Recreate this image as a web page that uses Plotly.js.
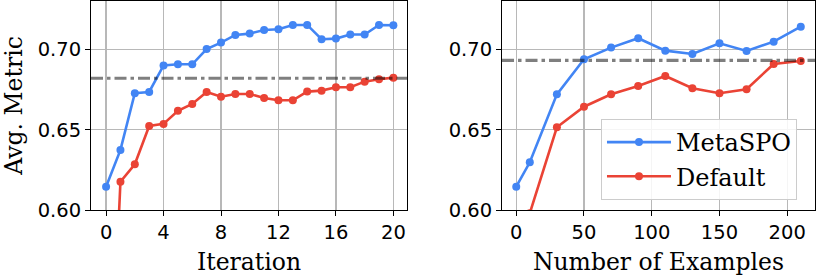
<!DOCTYPE html>
<html>
<head>
<meta charset="utf-8">
<script src="https://cdn.plot.ly/plotly-3.0.1.min.js"></script>
<style>html,body{margin:0;padding:0;background:#fff;}#chart{width:818px;height:277px;}</style>
</head>
<body>
<div id="chart"></div>
<script>
// Left panel: metric vs iteration
const iterations = [0,1,2,3,4,5,6,7,8,9,10,11,12,13,14,15,16,17,18,19,20];
const metaspoIter = [0.6145,0.6374,0.6727,0.6735,0.6900,0.6907,0.6907,0.7002,0.7042,0.7090,0.7098,0.7121,0.7125,0.7152,0.7152,0.7063,0.7067,0.7092,0.7092,0.7152,0.7150];
const defaultIter = [0.420,0.6176,0.6285,0.6523,0.6536,0.6618,0.6660,0.6735,0.6705,0.6722,0.6722,0.6697,0.6683,0.6683,0.6737,0.6743,0.6764,0.6764,0.6799,0.6814,0.6824];
const baselineIter = 0.682;

// Right panel: metric vs number of examples
const examples = [0,10,30,50,70,90,110,130,150,170,190,210];
const metaspoEx = [0.6145,0.6297,0.6720,0.6938,0.7011,0.7069,0.6992,0.6971,0.7038,0.6990,0.7048,0.7141];
const defaultEx = [0.560,0.598,0.6515,0.6643,0.6720,0.6772,0.6834,0.6758,0.6727,0.6752,0.6909,0.6928];
const baselineEx = 0.6932;

const yTicks = [0.60,0.65,0.70];
const yTickText = ['0.60','0.65','0.70'];
const xTicksIter = [0,4,8,12,16,20];
const xTicksEx = [0,50,100,150,200];

const BLUE = '#4285F4';
const RED = '#EA4335';

function series(x, y, name, color, xa, ya, show) {
  return {
    x: x, y: y, name: name, type: 'scatter', mode: 'lines+markers',
    xaxis: xa, yaxis: ya, showlegend: show,
    line: {color: color, width: 2.6},
    marker: {color: color, size: 8}
  };
}

const traces = [
  series(iterations, metaspoIter, 'MetaSPO', BLUE, 'x', 'y', false),
  series(iterations, defaultIter, 'Default', RED, 'x', 'y', false),
  series(examples, metaspoEx, 'MetaSPO', BLUE, 'x2', 'y2', true),
  series(examples, defaultEx, 'Default', RED, 'x2', 'y2', true)
];

const tickFont = {family: 'DejaVu Sans', size: 19.5, color: '#000'};
const titleFont = {family: 'DejaVu Serif', size: 23.5, color: '#000'};

function xax(domain, ticks, range, title) {
  return {
    domain: domain, range: range, tickvals: ticks, ticks: 'outside', ticklen: 5, tickwidth: 1,
    tickcolor: '#000', showline: true, linecolor: '#000', linewidth: 1, mirror: true,
    showgrid: true, gridcolor: '#b8b8b8', gridwidth: 1.2, zeroline: false,
    tickfont: tickFont, title: {text: title, font: titleFont, standoff: 10}, automargin: false
  };
}
function yax(anchor, title) {
  return {
    anchor: anchor, range: [0.6, 0.7301], tickvals: yTicks, ticktext: yTickText,
    showticklabels: true, ticks: 'outside', ticklen: 5, tickwidth: 1, tickcolor: '#000',
    showline: true, linecolor: '#000', linewidth: 1, mirror: true,
    showgrid: true, gridcolor: '#b8b8b8', gridwidth: 1.2, zeroline: false,
    tickfont: tickFont, title: {text: title, font: titleFont, standoff: 8}, automargin: false
  };
}

const dashStyle = '12px,4px,3.5px,4px';
const layout = {
  width: 818, height: 277,
  margin: {l: 91, r: 3, t: 1, b: 67},
  paper_bgcolor: '#fff', plot_bgcolor: '#fff',
  hovermode: false,
  xaxis: xax([0, 0.4365], xTicksIter, [-1.05, 20.95], 'Iteration'),
  yaxis: yax('x', 'Avg. Metric'),
  xaxis2: xax([0.5677, 1], xTicksEx, [-10.5, 220.5], 'Number of Examples'),
  yaxis2: yax('x2', ''),
  shapes: [
    {type: 'line', xref: 'x domain', yref: 'y', x0: 0, x1: 1, y0: baselineIter, y1: baselineIter,
     line: {color: 'rgba(0,0,0,0.5)', width: 3.2, dash: dashStyle}, layer: 'above'},
    {type: 'line', xref: 'x2 domain', yref: 'y2', x0: 0, x1: 1, y0: baselineEx, y1: baselineEx,
     line: {color: 'rgba(0,0,0,0.5)', width: 3.2, dash: dashStyle}, layer: 'above'}
  ],
  showlegend: true,
  legend: {
    x: 0.7044, y: 0.4354, xanchor: 'left', yanchor: 'top', xref: 'paper', yref: 'paper',
    bgcolor: 'rgba(255,255,255,0.85)', bordercolor: '#cccccc', borderwidth: 1,
    font: {family: 'DejaVu Serif', size: 24, color: '#000'},
    itemwidth: 64, tracegroupgap: 0
  }
};

Plotly.newPlot('chart', traces, layout, {staticPlot: true, displayModeBar: false});
</script>
</body>
</html>
